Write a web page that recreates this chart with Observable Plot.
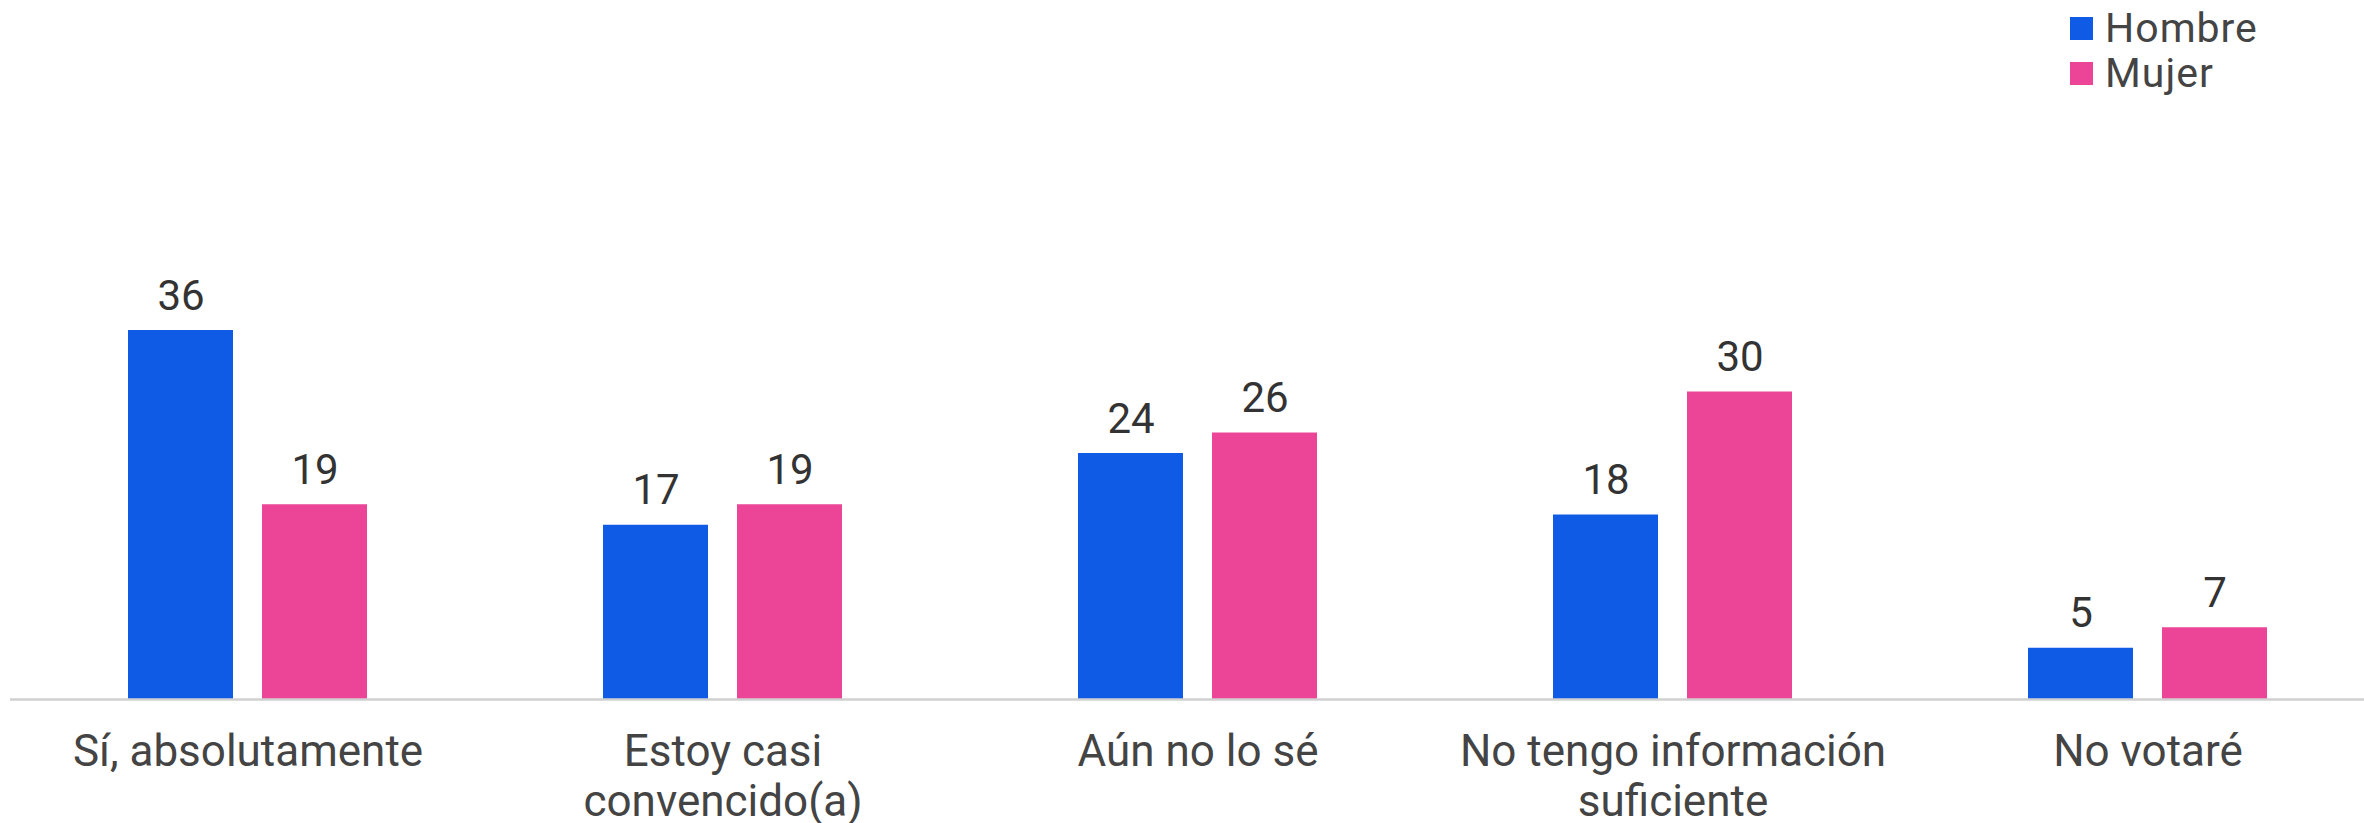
<!DOCTYPE html>
<html>
<head>
<meta charset="utf-8">
<script src="https://cdn.jsdelivr.net/npm/d3@7"></script>
<script src="https://cdn.jsdelivr.net/npm/@observablehq/plot@0.6"></script>
<style>
  html, body { margin: 0; padding: 0; background: #ffffff; }
  body { width: 2364px; height: 823px; overflow: hidden; font-family: Roboto, "Noto Sans", sans-serif; }
  #legend { position: relative; width: 2364px; height: 100px; }
  .item { position: absolute; left: 2070px; display: flex; align-items: center; font-size: 41px; letter-spacing: 1px; color: #444444; line-height: 41px; }
  .sw { width: 23px; height: 23px; margin-right: 12px; }
  #chart svg { display: block; }
</style>
</head>
<body>
<div id="legend"></div>
<div id="chart"></div>
<script>
const categories = ["Sí, absolutamente", "Estoy casi\nconvencido(a)", "Aún no lo sé", "No tengo información\nsuficiente", "No votaré"];
const series = ["Hombre", "Mujer"];
const colors = ["#105BE5", "#EC4497"];
const hombre = [36, 17, 24, 18, 5];
const mujer = [19, 19, 26, 30, 7];

const data = [];
categories.forEach((c, i) => {
  data.push({category: c, sex: series[0], value: hombre[i]});
  data.push({category: c, sex: series[1], value: mujer[i]});
});

// legend
const legend = document.getElementById("legend");
series.forEach((s, i) => {
  const item = document.createElement("div");
  item.className = "item";
  item.style.top = (i === 0 ? 8 : 53) + "px";
  const sw = document.createElement("div");
  sw.className = "sw";
  sw.style.background = colors[i];
  const t = document.createElement("span");
  t.textContent = s;
  item.appendChild(sw);
  item.appendChild(t);
  legend.appendChild(item);
});

const chart = Plot.plot({
  width: 2364,
  height: 723,
  marginLeft: 10,
  marginRight: -21,
  marginTop: 189,
  marginBottom: 124,
  style: {fontFamily: "Roboto, 'Noto Sans', sans-serif", background: "#ffffff"},
  fx: {domain: categories, padding: 0, label: null},
  x: {domain: series, paddingInner: 0.22, paddingOuter: 0.87, axis: null},
  y: {domain: [0, 40], axis: null},
  color: {domain: series, range: colors},
  marks: [
    Plot.axisFx({anchor: "bottom", tickSize: 0, tickPadding: 31, fontSize: 44, lineHeight: 1.13, fill: "#444444", label: null}),
    Plot.barY(data, {fx: "category", x: "sex", y: "value", fill: "sex"}),
    Plot.ruleY([0], {stroke: "#d0d0d0", strokeWidth: 2.5}),
    Plot.text(data, {fx: "category", x: "sex", y: "value", text: d => String(d.value), lineAnchor: "bottom", dy: -21, fontSize: 42, fill: "#333333"})
  ]
});
document.getElementById("chart").appendChild(chart);
</script>
</body>
</html>
